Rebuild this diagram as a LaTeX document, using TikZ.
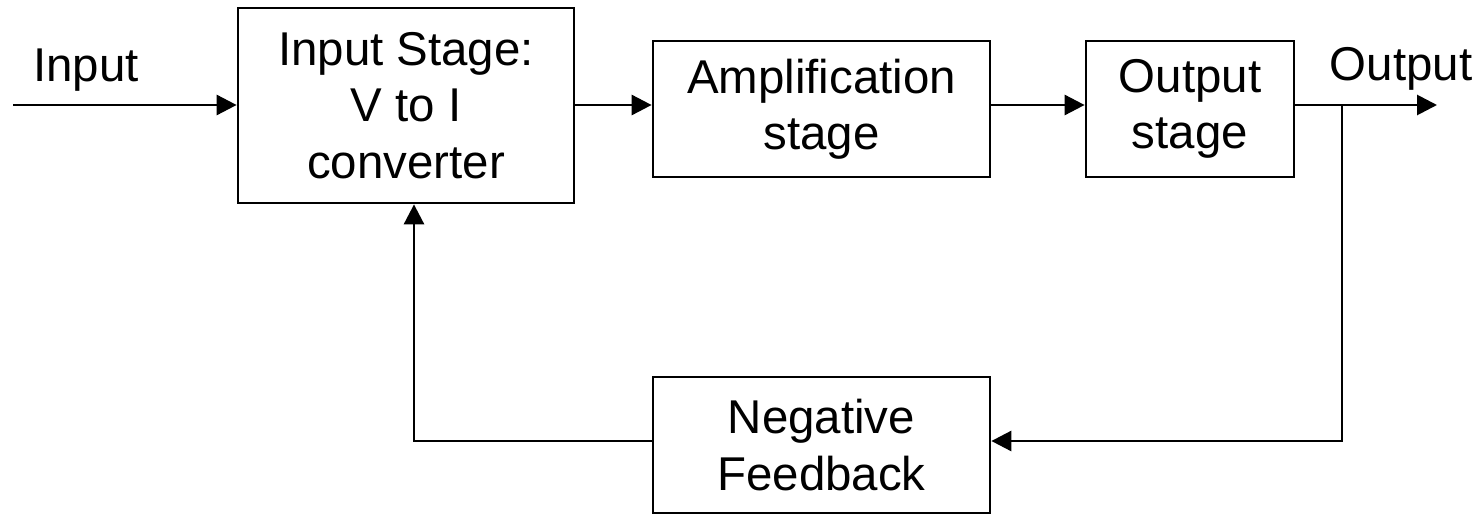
\documentclass[tikz,border=0pt]{standalone}
\usepackage{fontspec}
\setmainfont{Liberation Sans}
\usetikzlibrary{arrows.meta}

\begin{document}
\begin{tikzpicture}[x=0.02cm, y=-0.02cm,
    line width=1.6pt,
    >={Triangle[length=0.4cm, width=0.4cm]},
    blockbox/.style={draw, align=center, inner sep=0pt, font=\fontsize{27}{32}\selectfont},
    lbl/.style={anchor=base, inner sep=0pt, font=\fontsize{27}{32}\selectfont}]

    \useasboundingbox (0,0) rectangle (1480,514);

    \coordinate (axis) at (0,105);
    \coordinate (src) at (13,105);
    \coordinate (tip) at (1437,105);
    \coordinate (branch) at (1342,105);
    \coordinate (fbline) at (0,441);

    \node[blockbox, minimum width=6.72cm, minimum height=3.9cm] (inp) at (406,105.5) {Input Stage:\\ V to I\\ converter};
    \node[blockbox, minimum width=6.74cm, minimum height=2.72cm] (amp) at (821.5,109) {Amplification\\ stage};
    \node[blockbox, minimum width=4.16cm, minimum height=2.72cm] (out) at (1190,109) {Output\\ stage};
    \node[blockbox, minimum width=6.74cm, minimum height=2.72cm] (fb) at (821.5,445) {Negative\\ Feedback};

    \node[lbl] (inlbl) at (86,81) {Input};
    \node[lbl] (outlbl) at (1401,80) {Output};

    \draw[->] (src) -- (inp.west |- axis);
    \draw[->] (inp.east |- axis) -- (amp.west |- axis);
    \draw[->] (amp.east |- axis) -- (out.west |- axis);
    \draw[->] (out.east |- axis) -- (tip);

    % feedback loop
    \draw[->] (branch) |- (fb.east |- fbline);
    \draw[->] (fb.west |- fbline) -| ([xshift=0.16cm]inp.south);

\end{tikzpicture}
\end{document}
